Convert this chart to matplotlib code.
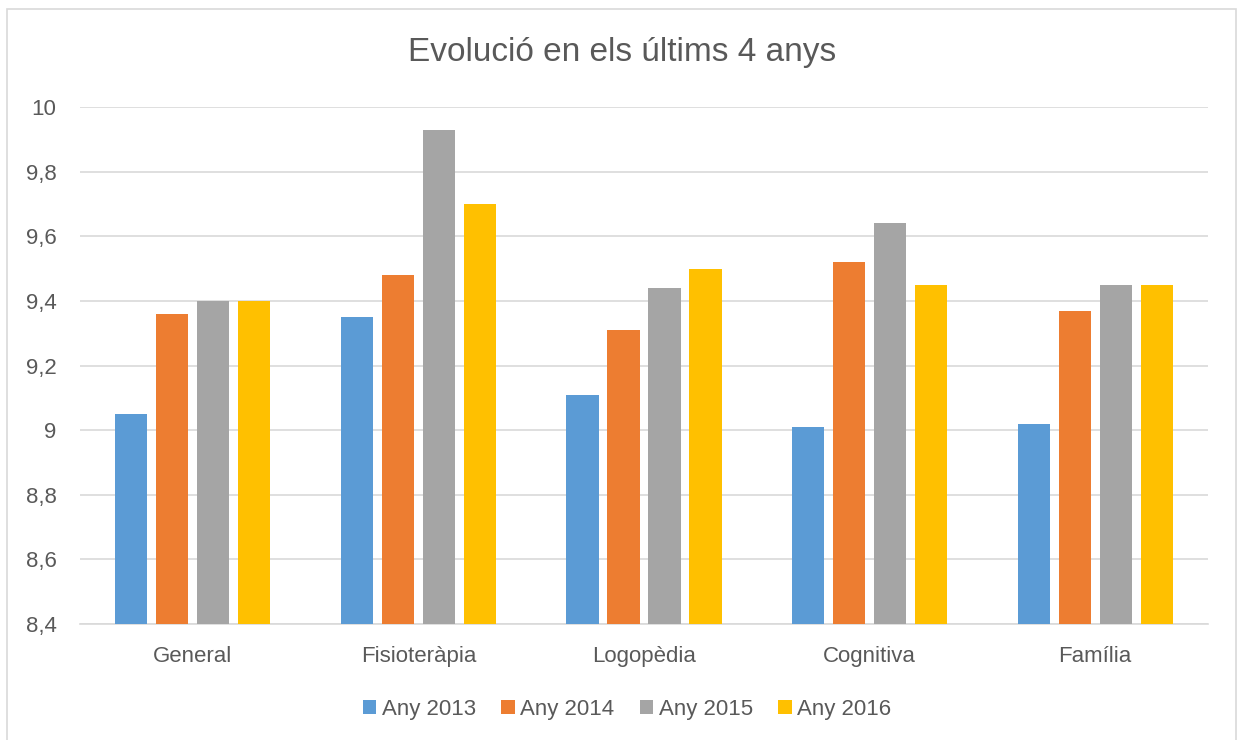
import numpy as np
import matplotlib
matplotlib.use("Agg")
import matplotlib.pyplot as plt
from matplotlib.patches import Rectangle

# ── Data ──────────────────────────────────────────────
categories = ["General", "Fisioteràpia", "Logopèdia", "Cognitiva", "Família"]
series_names = ["Any 2013", "Any 2014", "Any 2015", "Any 2016"]
any_2013 = [9.05, 9.35, 9.11, 9.01, 9.02]
any_2014 = [9.36, 9.48, 9.31, 9.52, 9.37]
any_2015 = [9.40, 9.93, 9.44, 9.64, 9.45]
any_2016 = [9.40, 9.70, 9.50, 9.45, 9.45]
y_ticks = [8.4, 8.6, 8.8, 9.0, 9.2, 9.4, 9.6, 9.8, 10.0]

# ── Style ─────────────────────────────────────────────
COLORS = ['#5B9BD5', '#ED7D31', '#A5A5A5', '#FFC000']
TEXT = '#595959'
GRID = '#D9D9D9'
plt.rcParams['font.family'] = ['Liberation Sans', 'DejaVu Sans']

W, H = 1237, 740
fig = plt.figure(figsize=(W / 100, H / 100), dpi=100)
ax = fig.add_axes([80 / W, 1 - 624 / H, (1208 - 80) / W, (624 - 107) / H])

# outer chart border (only top/left/right visible in the crop)
fig.patches.append(Rectangle((7.5 / W, -0.05), (1236 - 7.5) / W, 1.05 - 9 / H,
                             transform=fig.transFigure, fill=False,
                             edgecolor=GRID, linewidth=1.2))

x = np.arange(len(categories))
bar_w = 32.3 / 225.6
step = 41 / 225.6
data = [any_2013, any_2014, any_2015, any_2016]
for i, (vals, name) in enumerate(zip(data, series_names)):
    ax.bar(x + (i - 1.5) * step, vals, width=bar_w, color=COLORS[i],
           label=name, zorder=3)

ax.set_ylim(8.4, 10.0)
ax.set_xlim(-0.5, len(categories) - 0.5)
ax.set_yticks(y_ticks)
ax.set_yticklabels([f"{v:g}".replace('.', ',') for v in y_ticks])
ax.set_xticks(x)
ax.set_xticklabels(categories)
ax.tick_params(axis='both', length=0, colors=TEXT)
ax.tick_params(axis='y', labelsize=16, pad=17)
ax.tick_params(axis='x', labelsize=16, pad=16)
ax.grid(axis='y', color=GRID, linewidth=1.2, zorder=0)
for s in ['top', 'right', 'left']:
    ax.spines[s].set_visible(False)
ax.spines['bottom'].set_color(GRID)
ax.spines['bottom'].set_linewidth(1.2)

fig.text(622 / W, 1 - 52 / H, "Evolució en els últims 4 anys",
         ha='center', va='center', fontsize=24, color=TEXT)

fig.legend(loc='center', bbox_to_anchor=(627 / W, 1 - 709 / H), ncol=4,
           frameon=False, fontsize=16, labelcolor=TEXT,
           handlelength=0.6, handleheight=0.6, handletextpad=0.25,
           columnspacing=1.15)

fig.savefig("out.png", dpi=100, facecolor='white')
